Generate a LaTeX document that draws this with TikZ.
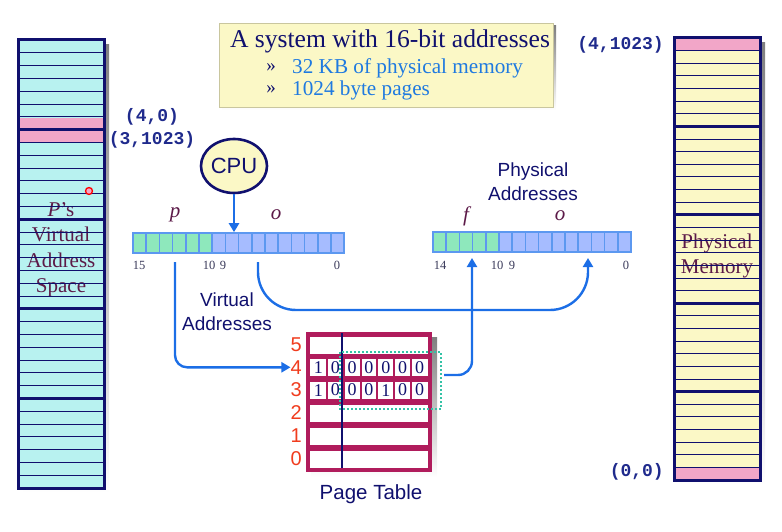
\documentclass[tikz,border=0pt]{standalone}
\usepackage{xcolor}
\usepackage{fontspec}
\setmainfont{Liberation Serif}
\setsansfont{Liberation Sans}
\setmonofont{Liberation Mono}
\usepackage{tikz}
\usetikzlibrary{calc}
\usetikzlibrary{arrows.meta}
\usetikzlibrary{shapes.geometric}
\usetikzlibrary{positioning}

\definecolor{navy}{HTML}{10106E}
\definecolor{vcyan}{HTML}{B8F2F0}
\definecolor{mpink}{HTML}{F2A6C8}
\definecolor{myellow}{HTML}{FBF8C6}
\definecolor{plum}{HTML}{5C1A48}
\definecolor{monoblue}{HTML}{1F2A8C}
\definecolor{flowblue}{HTML}{1C6EE6}
\definecolor{barline}{HTML}{5C98F0}
\definecolor{bitgreen}{HTML}{8EE8BC}
\definecolor{bitblue}{HTML}{A6BCFF}
\definecolor{crimson}{HTML}{B01C5C}
\definecolor{rowred}{HTML}{F03C1E}
\definecolor{dotteal}{HTML}{34C2A6}
\definecolor{bullblue}{HTML}{1F7AE0}
\definecolor{bitgray}{HTML}{3A3A5A}
\definecolor{shade}{HTML}{B4B4B4}

\tikzset{
  rowline/.style={navy, line width=0.9pt},
  pageline/.style={navy, line width=3pt},
  colframe/.style={draw=navy, line width=3pt},
  coltext/.style={text=plum, align=center, font=\fontsize{21}{25.5}\selectfont},
  addr/.style={text=monoblue, inner sep=0, font=\ttfamily\bfseries\fontsize{18}{18}\selectfont},
  sanslbl/.style={text=navy, align=center, font=\sffamily\fontsize{19}{24}\selectfont},
  fieldlbl/.style={text=plum, font=\itshape\fontsize{21}{21}\selectfont},
  bitlbl/.style={text=bitgray, inner sep=0, font=\fontsize{12.5}{13}\selectfont},
  bitcell/.style={draw=barline, line width=1.6pt},
  rowlbl/.style={text=rowred, inner sep=0, anchor=east, font=\sffamily\fontsize{20}{20}\selectfont},
  digit/.style={text=navy, inner sep=0, font=\fontsize{18}{18}\selectfont},
  flow/.style={draw=flowblue, line width=2.4pt, -{Triangle[width=10pt,length=9pt]}},
}

\begin{document}
\begin{tikzpicture}[x=1pt,y=-1pt]
    \useasboundingbox (0,0) rectangle (782,532);
    % virtual address space
    \fill[shade] (23,45) rectangle (109,493);
    \fill[vcyan] (18,40) rectangle (104,488);
    \fill[mpink] (18,117.6) rectangle (104,143.2);
    \node[coltext] (vas) at (61,250) {\textit{P}’s\\Virtual\\Address\\Space};
    \foreach \i in {1,...,34} \draw[rowline] (18,{40+\i*12.8}) -- ++(86,0);
    \foreach \i in {1,...,4} \draw[pageline] (18,{40+\i*89.6}) -- ++(86,0);
    \draw[colframe] (18,40) rectangle (104,488);
    \node[circle, draw=red, fill=mpink, line width=1.3pt, inner sep=0, minimum size=7pt] (dot) at (89,191) {};
    \node[addr] (va40) at (152,117) {(4,0)};
    \node[addr] (va31023) at (152,140) {(3,1023)};

    % physical memory
    \fill[shade] (679,43) rectangle (765,485);
    \fill[myellow] (674,38) rectangle (760,480);
    \fill[mpink] (674,38) rectangle (760,50.6);
    \fill[mpink] (674,467.4) rectangle (760,480);
    \node[coltext] (pmem) at (717,256) {Physical\\Memory};
    \foreach \i in {1,...,34} \draw[rowline] (674,{38+\i*12.629}) -- ++(86,0);
    \foreach \i in {1,...,4} \draw[pageline] (674,{38+\i*88.4}) -- ++(86,0);
    \draw[colframe] (674,38) rectangle (760,480);
    \node[addr, anchor=east] (pa41023) at (664,45) {(4,1023)};
    \node[addr, anchor=east] (pa00) at (664,472) {(0,0)};

    % header box
    \fill[shade] (222,26) rectangle (556,110);
    \node[fill=myellow, draw=myellow!80!black, line width=0.5pt, minimum width=334pt, minimum height=84pt, inner sep=0] (sysbox) at (386,65) {};
    \node[text=navy, font=\fontsize{25.6}{26}\selectfont] (title) at (390,41) {A system with 16-bit addresses};
    \node[text=navy, font=\fontsize{19}{19}\selectfont] (b1) at (271,68) {»};
    \node[text=navy, font=\fontsize{19}{19}\selectfont] (b2) at (271,90) {»};
    \node[text=bullblue, anchor=west, inner sep=0, font=\fontsize{21.2}{21}\selectfont] (t1) at (292,68) {32 KB of physical memory};
    \node[text=bullblue, anchor=west, inner sep=0, font=\fontsize{21.2}{21}\selectfont] (t2) at (292,90) {1024 byte pages};

    % cpu
    \node[ellipse, draw=navy, fill=myellow, line width=2.6pt, minimum width=66pt, minimum height=54pt, inner sep=0, text=navy, font=\sffamily\fontsize{22}{22}\selectfont] (cpu) at (234,166) {CPU};

    % virtual address
    \foreach \i in {0,...,5} \draw[bitcell, fill=bitgreen] ({133+\i*13.2},233) rectangle ++(13.2,20);
    \foreach \i in {6,...,15} \draw[bitcell, fill=bitblue] ({133+\i*13.2},233) rectangle ++(13.2,20);
    \node[draw=barline, line width=1.6pt, minimum width=211.2pt, minimum height=20pt, inner sep=0] (vbar) at (238.6,243) {};
    \node[fieldlbl] (vpf) at (175,215) {p};
    \node[fieldlbl] (vof) at (276,215) {o};
    \node[bitlbl] (v15) at (139,265) {15};
    \node[bitlbl] (v10) at (209,265) {10};
    \node[bitlbl] (v9) at (223,265) {9};
    \node[bitlbl] (v0) at (337,265) {0};
    \node[sanslbl] (vaddr) at (227,312) {Virtual\\Addresses};

    % physical address
    \foreach \i in {0,...,4} \draw[bitcell, fill=bitgreen] ({433+\i*13.2},232) rectangle ++(13.2,20);
    \foreach \i in {5,...,14} \draw[bitcell, fill=bitblue] ({433+\i*13.2},232) rectangle ++(13.2,20);
    \node[draw=barline, line width=1.6pt, minimum width=198pt, minimum height=20pt, inner sep=0] (pbar) at (532,242) {};
    \node[fieldlbl] (pff) at (466,216) {f};
    \node[fieldlbl] (pof) at (560,216) {o};
    \node[bitlbl] (p14) at (440,265) {14};
    \node[bitlbl] (p10) at (497,265) {10};
    \node[bitlbl] (p9) at (512,265) {9};
    \node[bitlbl] (p0) at (626,265) {0};
    \node[sanslbl] (paddr) at (533,182) {Physical\\Addresses};

    % page table
    \fill[shade] (311,337) rectangle (437,477);
    \node[fill=crimson, minimum width=126pt, minimum height=140pt, inner sep=0] (ptable) at (369,402) {};
    \foreach \r in {0,...,5} \fill[white] (310,{450.5-\r*22.8}) rectangle (428,{467.5-\r*22.8});
    \foreach \r in {3,4} {
      \foreach \c in {1,...,6} \draw[crimson, line width=2pt] ({310+\c*16.857},{450.5-\r*22.8}) -- ++(0,17);
    }
    \foreach \b [count=\c from 0] in {1,0,0,0,0,0,0} \node[digit] (ra\c) at ({318.4+\c*16.857},367.3) {\b};
    \foreach \b [count=\c from 0] in {1,0,0,0,1,0,0} \node[digit] (rb\c) at ({318.4+\c*16.857},390.1) {\b};
    \draw[navy, line width=1.8pt] (342,333) -- (342,468);
    \draw[dotteal, line width=2pt, dash pattern=on 2pt off 2pt] (340,352) rectangle (441,409);
    \foreach \r in {0,...,5} \node[rowlbl] (pt\r) at (302,{458.5-\r*22.8}) {\r};
    \node[text=navy, font=\sffamily\fontsize{20.5}{20}\selectfont] (ptname) at (371,494) {Page Table};

    % connectors
    \coordinate (vp) at (175,262);
    \coordinate (vo) at (258,262);
    \coordinate (olow) at (420,310);
    \coordinate (po) at (588,258);
    \coordinate (ptout) at (444,375);
    \coordinate (pf) at (472,258);
    \draw[flow] (cpu.south) -- (cpu.south |- vbar.north);
    \draw[flow, rounded corners=12pt] (vp) |- (pt4.west);
    \draw[flow, rounded corners=38pt] (vo) |- (olow) -| (po);
    \draw[flow, rounded corners=14pt] (ptout) -| (pf);
\end{tikzpicture}
\end{document}
